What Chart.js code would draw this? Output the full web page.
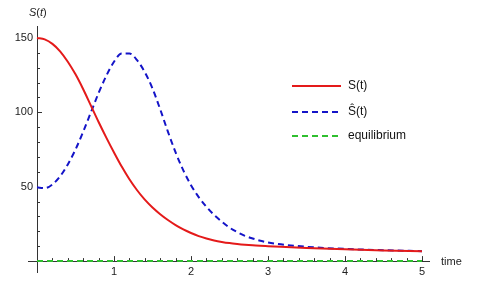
<!DOCTYPE html>
<html>
<head>
<meta charset="utf-8">
<script src="https://cdn.jsdelivr.net/npm/chart.js@4"></script>
<style>
  body { margin: 0; background: #fff; }
  canvas { display: block; }
</style>
</head>
<body>
<canvas id="myChart" width="484" height="283"></canvas>
<script>
const times = [0, 0.1, 0.2, 0.3, 0.4, 0.5, 0.6, 0.7, 0.8, 0.9, 1.0, 1.1, 1.2, 1.3, 1.4, 1.5, 1.6, 1.7, 1.8, 1.9, 2.0,
  2.1, 2.2, 2.3, 2.4, 2.5, 2.6, 2.7, 2.8, 2.9, 3.0, 3.5, 4.0, 4.5, 5.0]
const sValues = [150, 149, 146, 141, 134, 125.5, 115.5, 104.5, 93.5, 83, 73, 63.5, 55, 47.6, 41.3, 36, 31.5, 27.6, 24.2, 21.3, 18.9,
  16.8, 15.2, 13.9, 12.9, 12.1, 11.5, 11, 10.6, 10.3, 10.05, 8.8, 7.9, 7.2, 6.7]
const sHatValues = [49.6, 49, 51.5, 57, 65, 75, 87, 100, 113, 124.5, 134, 139.5, 139.5, 135, 127, 116, 102, 87, 73, 61, 51,
  43, 36.5, 31, 26.5, 22.5, 19.5, 17, 15.2, 13.7, 12.5, 9.6, 8.2, 7.3, 6.7]
const eqTimes = [0, 5]
const eqValues = [0, 0]

const seriesNames = ['S(t)', 'Ŝ(t)', 'equilibrium']
const xMajorTicks = [1, 2, 3, 4, 5]
const yMajorTicks = [50, 100, 150]

const lineColors = ['#e41a1a', '#1414c8', '#2fbf2f']

function toPoints(xs, ys) {
    return xs.map((x, i) => ({ x: x, y: ys[i] }))
}

// axes drawn through the origin, Mathematica style
const axesPlugin = {
    id: 'axesPlugin',
    beforeDatasetsDraw(chart) {
        const ctx = chart.ctx
        const xs = chart.scales.x
        const ys = chart.scales.y
        const area = chart.chartArea
        const x0 = xs.getPixelForValue(0)
        const y0 = ys.getPixelForValue(0)
        ctx.save()
        ctx.strokeStyle = '#333'
        ctx.lineWidth = 1
        ctx.beginPath()
        ctx.moveTo(area.left, Math.round(y0) + 0.5)
        ctx.lineTo(area.right, Math.round(y0) + 0.5)
        ctx.moveTo(Math.round(x0) + 0.5, area.top)
        ctx.lineTo(Math.round(x0) + 0.5, area.bottom)
        // x ticks, pointing up
        for (let t = 0.2; t <= 5.01; t += 0.2) {
            const px = Math.round(xs.getPixelForValue(t)) + 0.5
            const major = Math.abs(t - Math.round(t)) < 0.01
            ctx.moveTo(px, y0)
            ctx.lineTo(px, y0 - (major ? 5 : 3))
        }
        // y ticks, pointing right
        for (let v = 10; v <= 150; v += 10) {
            const py = Math.round(ys.getPixelForValue(v)) + 0.5
            const major = v % 50 === 0
            ctx.moveTo(x0, py)
            ctx.lineTo(x0 + (major ? 5 : 3), py)
        }
        ctx.stroke()

        ctx.fillStyle = '#222'
        ctx.font = '11px "Liberation Sans", Arial, sans-serif'
        ctx.textBaseline = 'middle'
        ctx.textAlign = 'center'
        xMajorTicks.forEach(t => {
            ctx.fillText(String(t), xs.getPixelForValue(t), y0 + 11)
        })
        ctx.textAlign = 'right'
        yMajorTicks.forEach(v => {
            ctx.fillText(String(v), x0 - 4, ys.getPixelForValue(v))
        })
        ctx.textAlign = 'left'
        ctx.fillText('time', area.right + 11, y0 + 1)

        // y axis title S(t) with italic letters
        let tx = x0 - 8
        const ty = 13
        const parts = [['S', true], ['(', false], ['t', true], [')', false]]
        parts.forEach(p => {
            ctx.font = (p[1] ? 'italic ' : '') + '11px "Liberation Sans", Arial, sans-serif'
            ctx.fillText(p[0], tx, ty)
            tx += ctx.measureText(p[0]).width
        })
        ctx.restore()
    },
    afterDatasetsDraw(chart) {
        // legend inside the plot
        const ctx = chart.ctx
        const rows = [86, 112, 136]
        ctx.save()
        ctx.font = '12px "Liberation Sans", Arial, sans-serif'
        ctx.textBaseline = 'middle'
        ctx.textAlign = 'left'
        chart.data.datasets.forEach((ds, i) => {
            const y = rows[i]
            ctx.strokeStyle = ds.borderColor
            ctx.lineWidth = 2
            ctx.setLineDash(ds.borderDash || [])
            ctx.beginPath()
            ctx.moveTo(292, y)
            ctx.lineTo(341, y)
            ctx.stroke()
            ctx.setLineDash([])
            ctx.fillStyle = '#111'
            ctx.fillText(seriesNames[i], 348, y)
        })
        ctx.restore()
    }
}

const ctx = document.getElementById('myChart')
const myChart = new Chart(ctx, {
    type: 'line',
    data: {
        datasets: [
            {
                label: seriesNames[0],
                data: toPoints(times, sValues),
                borderColor: lineColors[0],
                borderWidth: 2,
                pointRadius: 0,
                cubicInterpolationMode: 'monotone'
            },
            {
                label: seriesNames[1],
                data: toPoints(times, sHatValues),
                borderColor: lineColors[1],
                borderWidth: 2,
                borderDash: [6, 4],
                pointRadius: 0,
                cubicInterpolationMode: 'monotone'
            },
            {
                label: seriesNames[2],
                data: toPoints(eqTimes, eqValues),
                borderColor: lineColors[2],
                borderWidth: 2,
                borderDash: [6, 4],
                pointRadius: 0
            }
        ]
    },
    options: {
        responsive: false,
        animation: false,
        layout: { padding: { left: 28, top: 26, right: 54, bottom: 10 } },
        plugins: {
            legend: { display: false },
            tooltip: { enabled: false }
        },
        scales: {
            x: { type: 'linear', min: -0.117, max: 5.104, display: false },
            y: { type: 'linear', min: -8, max: 158, display: false }
        }
    },
    plugins: [axesPlugin]
})
</script>
</body>
</html>
